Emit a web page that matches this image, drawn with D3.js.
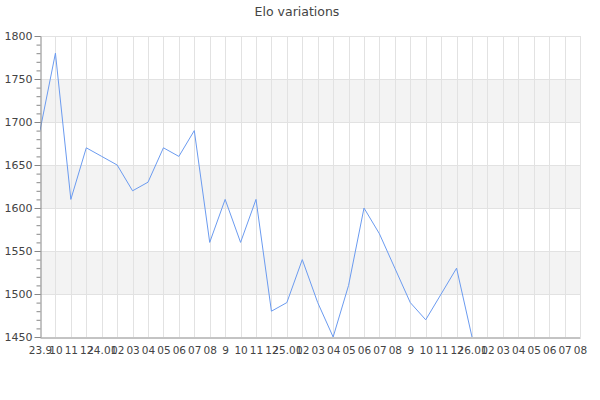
<!DOCTYPE html>
<html>
<head>
<meta charset="utf-8">
<script src="https://cdn.jsdelivr.net/npm/d3@7"></script>
<style>
  body { margin: 0; background: #fff; }
  svg { font-family: "DejaVu Sans", sans-serif; }
</style>
</head>
<body>
<div class="board"></div>
<script>
// DATA
var months = ['23.9', '10', '11', '12', '24.01', '02', '03', '04', '05', '06', '07', '08',
  '9', '10', '11', '12', '25.01', '02', '03', '04', '05', '06', '07', '08',
  '9', '10', '11', '12', '26.01', '02', '03', '04', '05', '06', '07', '08'];

var elo = [1690, 1780, 1610, 1670, 1660, 1650, 1620, 1630, 1670, 1660, 1690,
  1560, 1610, 1560, 1610, 1480, 1490, 1540, 1490, 1450, 1510, 1600, 1570,
  1530, 1490, 1470, 1500, 1530, 1450];

var yTicks = [1450, 1500, 1550, 1600, 1650, 1700, 1750, 1800];
var bands = [[1500, 1550], [1600, 1650], [1700, 1750]];

///BOARD
// (window.top is taken, so the plot edges get their own names)
var width = 600, height = 400;
var plotLeft = 40, plotRight = 580, plotTop = 36, plotBottom = 337;

var svg = d3.select('.board').append('svg')
  .attr('width', width)
  .attr('height', height);

var x = d3.scaleLinear().domain([0, months.length - 1]).range([plotLeft, plotRight]);
var y = d3.scaleLinear().domain([1450, 1800]).range([plotBottom, plotTop]);

// title
svg.append('text')
  .attr('x', 297)
  .attr('y', 16)
  .attr('text-anchor', 'middle')
  .attr('fill', '#444')
  .style('font-size', '12.5px')
  .text('Elo variations');

// grey bands
svg.selectAll('rect.band')
  .data(bands)
  .enter()
  .append('rect')
  .attr('class', 'band')
  .attr('x', plotLeft)
  .attr('width', plotRight - plotLeft)
  .attr('y', function (d) { return y(d[1]); })
  .attr('height', function (d) { return y(d[0]) - y(d[1]); })
  .attr('fill', '#f3f3f3');

// grid lines
svg.append('g')
  .selectAll('line')
  .data(yTicks.slice(1))
  .enter()
  .append('line')
  .attr('x1', plotLeft).attr('x2', plotRight)
  .attr('y1', function (d) { return Math.round(y(d)) + 0.5; })
  .attr('y2', function (d) { return Math.round(y(d)) + 0.5; })
  .attr('stroke', '#e2e2e2');

svg.append('g')
  .selectAll('line')
  .data(d3.range(1, months.length))
  .enter()
  .append('line')
  .attr('x1', function (d) { return Math.round(x(d)) + 0.5; })
  .attr('x2', function (d) { return Math.round(x(d)) + 0.5; })
  .attr('y1', plotTop).attr('y2', plotBottom)
  .attr('stroke', '#e2e2e2');

// the line
svg.append('clipPath').attr('id', 'clip')
  .append('rect')
  .attr('x', plotLeft).attr('y', plotTop)
  .attr('width', plotRight - plotLeft).attr('height', plotBottom - plotTop + 1);

var line = d3.line()
  .x(function (d, i) { return x(i); })
  .y(function (d) { return y(d); });

svg.append('path')
  .datum(elo)
  .attr('clip-path', 'url(#clip)')
  .attr('d', line)
  .attr('fill', 'none')
  .attr('stroke', '#6b9bf0')
  .attr('stroke-width', 1);

// y axis, minor ticks first
var yMinor = svg.append('g')
  .attr('transform', 'translate(' + (plotLeft + 0.5) + ',0)')
  .call(d3.axisLeft(y).ticks(35).tickSize(4).tickFormat(''));
yMinor.select('.domain').remove();
yMinor.selectAll('line').attr('stroke', '#888');

var yAxis = svg.append('g')
  .attr('transform', 'translate(' + (plotLeft + 0.5) + ',0)')
  .call(d3.axisLeft(y).tickValues(yTicks).tickFormat(d3.format('d'))
    .tickSize(6).tickPadding(2).tickSizeOuter(0));
yAxis.select('.domain').attr('stroke', '#888');
yAxis.selectAll('line').attr('stroke', '#888');
yAxis.selectAll('text')
  .attr('fill', '#444')
  .style('font-size', '11px')
  .style('font-family', '"DejaVu Sans", sans-serif');

// x axis
var xAxis = svg.append('g')
  .attr('transform', 'translate(0,' + (plotBottom + 0.5) + ')')
  .call(d3.axisBottom(x)
    .tickValues(d3.range(months.length))
    .tickFormat(function (d) { return months[d]; })
    .tickSize(0).tickPadding(9).tickSizeOuter(0));
xAxis.select('.domain').attr('stroke', '#888');
xAxis.selectAll('text')
  .attr('fill', '#444')
  .style('font-size', '10.5px')
  .style('font-family', '"DejaVu Sans", sans-serif');
</script>
</body>
</html>
